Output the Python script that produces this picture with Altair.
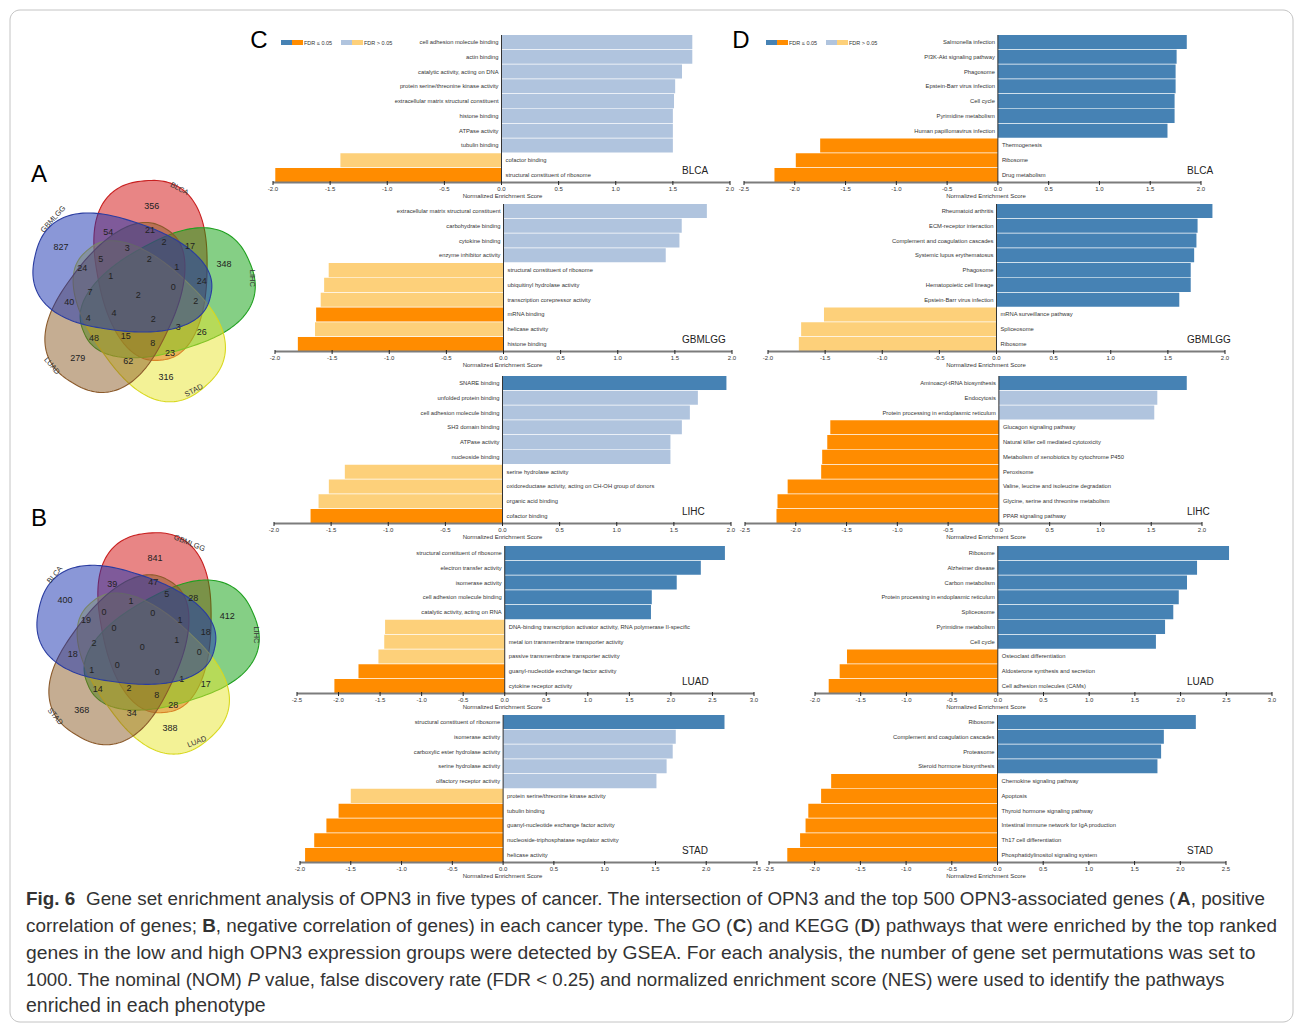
import altair as alt
import numpy as np
import pandas as pd

FONT = "Liberation Sans"

# bar colour classes: positive/negative NES, FDR <= 0.05 or not
CLS_DOMAIN = ["up_sig", "up_ns", "down_sig", "down_ns"]
CLS_RANGE = ["#4682B4", "#B0C4DE", "#FF8C00", "#FDD07A"]

# ---------------- GO enrichment (C) ----------------
go_blca_terms = ["cell adhesion molecule binding", "actin binding", "catalytic activity, acting on DNA",
                 "protein serine/threonine kinase activity", "extracellular matrix structural constituent",
                 "histone binding", "ATPase activity", "tubulin binding", "cofactor binding",
                 "structural constituent of ribosome"]
go_blca_nes = [1.67, 1.67, 1.58, 1.52, 1.51, 1.50, 1.50, 1.50, -1.41, -1.98]
go_blca_sig = [0, 0, 0, 0, 0, 0, 0, 0, 0, 1]

go_gbmlgg_terms = ["extracellular matrix structural constituent", "carbohydrate binding", "cytokine binding",
                   "enzyme inhibitor activity", "structural constituent of ribosome",
                   "ubiquitinyl hydrolase activity", "transcription corepressor activity", "mRNA binding",
                   "helicase activity", "histone binding"]
go_gbmlgg_nes = [1.78, 1.56, 1.54, 1.42, -1.53, -1.57, -1.60, -1.64, -1.65, -1.80]
go_gbmlgg_sig = [0, 0, 0, 0, 0, 0, 0, 1, 0, 1]

go_lihc_terms = ["SNARE binding", "unfolded protein binding", "cell adhesion molecule binding",
                 "SH3 domain binding", "ATPase activity", "nucleoside binding", "serine hydrolase activity",
                 "oxidoreductase activity, acting on CH-OH group of donors", "organic acid binding",
                 "cofactor binding"]
go_lihc_nes = [1.96, 1.71, 1.64, 1.57, 1.47, 1.47, -1.38, -1.52, -1.61, -1.68]
go_lihc_sig = [1, 0, 0, 0, 0, 0, 0, 0, 0, 1]

go_luad_terms = ["structural constituent of ribosome", "electron transfer activity", "isomerase activity",
                 "cell adhesion molecule binding", "catalytic activity, acting on RNA",
                 "DNA-binding transcription activator activity, RNA polymerase II-specific",
                 "metal ion transmembrane transporter activity", "passive transmembrane transporter activity",
                 "guanyl-nucleotide exchange factor activity", "cytokine receptor activity"]
go_luad_nes = [2.65, 2.36, 2.07, 1.77, 1.76, -1.44, -1.45, -1.52, -1.76, -2.05]
go_luad_sig = [1, 1, 1, 1, 1, 0, 0, 0, 1, 1]

go_stad_terms = ["structural constituent of ribosome", "isomerase activity", "carboxylic ester hydrolase activity",
                 "serine hydrolase activity", "olfactory receptor activity",
                 "protein serine/threonine kinase activity", "tubulin binding",
                 "guanyl-nucleotide exchange factor activity", "nucleoside-triphosphatase regulator activity",
                 "helicase activity"]
go_stad_nes = [2.18, 1.70, 1.67, 1.61, 1.51, -1.50, -1.62, -1.74, -1.86, -1.95]
go_stad_sig = [1, 0, 0, 0, 0, 0, 1, 1, 1, 1]

# ---------------- KEGG enrichment (D) ----------------
kegg_blca_terms = ["Salmonella infection", "PI3K-Akt signaling pathway", "Phagosome",
                   "Epstein-Barr virus infection", "Cell cycle", "Pyrimidine metabolism",
                   "Human papillomavirus infection", "Thermogenesis", "Ribosome", "Drug metabolism"]
kegg_blca_nes = [1.86, 1.76, 1.75, 1.75, 1.74, 1.74, 1.67, -1.75, -1.99, -2.20]
kegg_blca_sig = [1, 1, 1, 1, 1, 1, 1, 1, 1, 1]

kegg_gbmlgg_terms = ["Rheumatoid arthritis", "ECM-receptor interaction", "Complement and coagulation cascades",
                     "Systemic lupus erythematosus", "Phagosome", "Hematopoietic cell lineage",
                     "Epstein-Barr virus infection", "mRNA surveillance pathway", "Spliceosome", "Ribosome"]
kegg_gbmlgg_nes = [1.89, 1.76, 1.75, 1.73, 1.70, 1.70, 1.60, -1.51, -1.71, -1.73]
kegg_gbmlgg_sig = [1, 1, 1, 1, 1, 1, 1, 0, 0, 0]

kegg_lihc_terms = ["Aminoacyl-tRNA biosynthesis", "Endocytosis", "Protein processing in endoplasmic reticulum",
                   "Glucagon signaling pathway", "Natural killer cell mediated cytotoxicity",
                   "Metabolism of xenobiotics by cytochrome P450", "Peroxisome",
                   "Valine, leucine and isoleucine degradation", "Glycine, serine and threonine metabolism",
                   "PPAR signaling pathway"]
kegg_lihc_nes = [1.85, 1.56, 1.53, -1.66, -1.69, -1.74, -1.75, -2.08, -2.18, -2.19]
kegg_lihc_sig = [1, 0, 0, 1, 1, 1, 1, 1, 1, 1]

kegg_luad_terms = ["Ribosome", "Alzheimer disease", "Carbon metabolism",
                   "Protein processing in endoplasmic reticulum", "Spliceosome", "Pyrimidine metabolism",
                   "Cell cycle", "Osteoclast differentiation", "Aldosterone synthesis and secretion",
                   "Cell adhesion molecules (CAMs)"]
kegg_luad_nes = [2.53, 2.18, 2.07, 1.98, 1.92, 1.83, 1.73, -1.65, -1.73, -1.85]
kegg_luad_sig = [1, 1, 1, 1, 1, 1, 1, 1, 1, 1]

kegg_stad_terms = ["Ribosome", "Complement and coagulation cascades", "Proteasome",
                   "Steroid hormone biosynthesis", "Chemokine signaling pathway", "Apoptosis",
                   "Thyroid hormone signaling pathway", "Intestinal immune network for IgA production",
                   "Th17 cell differentiation", "Phosphatidylinositol signaling system"]
kegg_stad_nes = [2.17, 1.82, 1.79, 1.75, -1.82, -1.93, -2.07, -2.10, -2.16, -2.30]
kegg_stad_sig = [1, 1, 1, 1, 1, 1, 1, 1, 1, 1]

cancers = ["BLCA", "GBMLGG", "LIHC", "LUAD", "STAD"]
go_sets = [(go_blca_terms, go_blca_nes, go_blca_sig), (go_gbmlgg_terms, go_gbmlgg_nes, go_gbmlgg_sig),
           (go_lihc_terms, go_lihc_nes, go_lihc_sig), (go_luad_terms, go_luad_nes, go_luad_sig),
           (go_stad_terms, go_stad_nes, go_stad_sig)]
kegg_sets = [(kegg_blca_terms, kegg_blca_nes, kegg_blca_sig), (kegg_gbmlgg_terms, kegg_gbmlgg_nes, kegg_gbmlgg_sig),
             (kegg_lihc_terms, kegg_lihc_nes, kegg_lihc_sig), (kegg_luad_terms, kegg_luad_nes, kegg_luad_sig),
             (kegg_stad_terms, kegg_stad_nes, kegg_stad_sig)]

# x-axis domains of each panel
go_domains = [(-2.0, 2.0), (-2.0, 2.0), (-2.0, 2.0), (-2.5, 3.0), (-2.0, 2.5)]
kegg_domains = [(-2.5, 2.0), (-2.0, 2.0), (-2.5, 2.0), (-2.0, 3.0), (-2.5, 2.5)]

# ---------------- Venn counts ----------------
venn_a_sets = ["BLCA", "LIHC", "STAD", "LUAD", "GBMLGG"]
venn_a_counts = [356, 827, 54, 21, 17, 348, 3, 2, 5, 24, 2, 1, 1, 24, 7, 2, 0, 40, 2, 4, 4, 2, 3, 26,
                 48, 15, 8, 23, 279, 62, 316]
venn_b_sets = ["GBMLGG", "LIHC", "LUAD", "STAD", "BLCA"]
venn_b_counts = [841, 400, 39, 47, 5, 28, 412, 1, 0, 19, 0, 1, 0, 18, 2, 0, 1, 18, 0, 1, 0, 0, 1, 17,
                 14, 2, 8, 28, 368, 34, 388]

# ---------------- page layout (pixels) ----------------
W, H = 1295, 1025
PW, PH = 457, 147
row_top = [35, 204, 376, 546, 715]
go_left = [273, 275, 274, 297, 300]
kegg_left = [744, 768, 745, 815, 769]
GO_NAME_X, KEGG_NAME_X = 682, 1187
GO_TITLE_X, KEGG_TITLE_X = 502.5, 986

# region-label offsets from each diagram centre
venn_a_label_xy = [(13.4, -89), (-77.3, -47.7), (-30, -63.3), (11.7, -65), (51.7, -49), (85.7, -30.7),
                   (-11, -47.3), (25.7, -53.3), (-37.6, -35.7), (-56, -27.3), (11, -35.7), (38.4, -27.7),
                   (-27.6, -19), (63.4, -14), (-48.3, -3.3), (0, 0), (35, -7.7), (-69, 7.3), (57.4, 5.7),
                   (-50, 23.3), (-24.3, 18.3), (15, 24.3), (40, 31.7), (63.4, 36.7), (-44.3, 43.3),
                   (-12.6, 40.7), (14.4, 47.7), (31.7, 57.7), (-60.6, 63.3), (-10, 66), (27.7, 81.7)]
venn_b_label_xy = [(12.7, -89.6), (-77.3, -47.3), (-30, -63.3), (11, -65), (24.4, -53), (51, -49),
                   (85, -31.6), (-11.3, -46.6), (-38.3, -35), (-56.3, -27.3), (10.4, -34), (37.7, -27.3),
                   (-28.3, -19), (63.4, -15), (-48.3, -4), (0, 0), (34.4, -7.3), (-69.6, 6.7), (57, 5),
                   (-50.6, 22.7), (-25, 17.7), (15, 24.4), (39.4, 31.7), (63.4, 37), (-44.6, 42),
                   (-13.3, 40.4), (14.4, 47.7), (31, 57.7), (-60.6, 62.7), (-10.6, 66), (27.7, 80.4)]
venn_a_center = (138.3, 295.0)
venn_b_center = (142.3, 647.3)
# set-name label offsets and angles, in the same order as the set lists
venn_a_name_xy = [(41, -106), (113.5, -16.7), (55.7, 95.7), (-86.6, 71), (-85, -75.7)]
venn_a_name_ang = [28, 90, 332, 50, 312]
venn_b_name_xy = [(47, -104), (113.5, -12.3), (54.7, 94.7), (-87.3, 69.4), (-87.3, -72.3)]
venn_b_name_ang = [22, 90, 338, 50, 310]

SHAPE_COLORS = ["red", "green", "yellow", "brown", "blue"]
SHAPE_FILL = ["#D10B0B", "#0B9F0B", "#E7E52D", "#8B5B25", "#1530B0"]
SHAPE_STROKE = ["#C82020", "#20A020", "#D8D820", "#8B5A2B", "#2A3CA0"]
SHAPE_A, SHAPE_B, SHAPE_E, SHAPE_N = 90.0, 55.0, 0.15, 2.4
SHAPE_OFF = (11.0, -23.0)
SHAPE_SHIFT = (3.0, -1.5)
SHAPE_TILT = -5.0

ONE = pd.DataFrame({"k": [0]})


def rot(x, y, deg):
    r = np.radians(deg)
    return x * np.cos(r) - y * np.sin(r), x * np.sin(r) + y * np.cos(r)


def shape_ring(cx, cy, k):
    t = np.linspace(0, 2 * np.pi, 181)
    c, s = np.cos(t), np.sin(t)
    su = np.sign(c) * np.abs(c) ** (2 / SHAPE_N)
    sv = np.sign(s) * np.abs(s) ** (2 / SHAPE_N)
    x = SHAPE_B * su * (1 - SHAPE_E * sv)
    y = SHAPE_A * sv
    x, y = rot(x, y, SHAPE_TILT)
    x, y = x + SHAPE_OFF[0], y + SHAPE_OFF[1]
    x, y = rot(x, y, 72 * k)
    ox, oy = cx + SHAPE_SHIFT[0], cy + SHAPE_SHIFT[1]
    pts = [[round(float(ox + a), 2), round(float(oy + b), 2)] for a, b in zip(x, y)]
    pts[-1] = pts[0]
    return pts


def txt(x, y, s, size, align="left", baseline="middle", weight="normal", color="#333",
        font=FONT, style="normal"):
    return alt.Chart(pd.DataFrame({"s": [s]})).mark_text(
        align=align, baseline=baseline, fontSize=size, fontWeight=weight, fontStyle=style,
        color=color, font=font
    ).encode(x=alt.value(x), y=alt.value(y), text="s:N")


def legend_layers(x0, y0, letter, letter_x):
    layers = []
    swatches = [(x0, CLS_RANGE[0]), (x0 + 11, CLS_RANGE[2]), (x0 + 60, CLS_RANGE[1]), (x0 + 71, CLS_RANGE[3])]
    for a, c in swatches:
        layers.append(alt.Chart(ONE).mark_rect(color=c).encode(
            x=alt.value(a), x2=alt.value(a + 11), y=alt.value(y0), y2=alt.value(y0 + 5)))
    layers.append(txt(x0 + 23, y0 + 2.5, "FDR ≤ 0.05", 5.5))
    layers.append(txt(x0 + 83, y0 + 2.5, "FDR > 0.05", 5.5))
    layers.append(txt(letter_x, 48, letter, 24, align="center", baseline="alphabetic", color="#000"))
    return layers


def bar_panel(terms, nes, sig, dom, left, top, cancer, name_x, title_x):
    lo, hi = dom
    bottom = top + PH
    cls = [("up_" if v > 0 else "down_") + ("sig" if s else "ns") for v, s in zip(nes, sig)]
    df = pd.DataFrame({"term": terms, "nes": nes, "cls": cls})
    n_ticks = int(round((hi - lo) / 0.5)) + 1
    ticks = [round(lo + 0.5 * i, 1) for i in range(n_ticks)]
    tick_df = pd.DataFrame({"v": ticks, "lab": [f"{t:.1f}" for t in ticks]})
    xs = alt.Scale(domain=[lo, hi], range=[left, left + PW], nice=False, zero=False)
    y = alt.Y("term:N", sort=terms, axis=None,
              scale=alt.Scale(range=[top, bottom], paddingInner=0.05, paddingOuter=0))
    base = alt.Chart(df)
    bars = base.mark_bar().encode(
        x=alt.X("nes:Q", scale=xs, axis=None), x2=alt.datum(0), y=y,
        color=alt.Color("cls:N", scale=alt.Scale(domain=CLS_DOMAIN, range=CLS_RANGE), legend=None))
    zero = alt.Chart(ONE).mark_rule(color="#333", strokeWidth=1).encode(
        x=alt.XDatum(0, axis=None), y=alt.value(top), y2=alt.value(bottom))
    pos = base.transform_filter("datum.nes > 0").mark_text(
        align="right", baseline="middle", dx=-3, font=FONT, fontSize=5.8, color="#333"
    ).encode(x=alt.XDatum(0, axis=None), y=y, text="term:N")
    neg = base.transform_filter("datum.nes < 0").mark_text(
        align="left", baseline="middle", dx=4, font=FONT, fontSize=5.8, color="#333"
    ).encode(x=alt.XDatum(0, axis=None), y=y, text="term:N")
    # x axis: baseline, ticks, tick labels and title, all placed through the panel's x scale
    axis_line = alt.Chart(ONE).mark_rule(color="#7C7C7C", strokeWidth=2).encode(
        x=alt.XDatum(lo, axis=None), x2=alt.datum(hi), y=alt.value(bottom + 0.5))
    tick_marks = alt.Chart(tick_df).mark_rule(color="#222", strokeWidth=1).encode(
        x=alt.X("v:Q", axis=None), y=alt.value(bottom - 1), y2=alt.value(bottom + 3))
    tick_labels = alt.Chart(tick_df).mark_text(
        baseline="middle", font=FONT, fontSize=6, color="#333"
    ).encode(x=alt.X("v:Q", axis=None), y=alt.value(bottom + 6.5), text="lab:N")
    title = txt(title_x, bottom + 13.5, "Normalized Enrichment Score", 6, align="center")
    name = txt(name_x, bottom - 11, cancer, 10, color="#222")
    return alt.layer(bars, zero, pos, neg, axis_line, tick_marks, tick_labels, title, name)


# ---------------- bar panels ----------------
panels = []
for i, cancer in enumerate(cancers):
    panels.append(bar_panel(*go_sets[i], go_domains[i], go_left[i], row_top[i], cancer,
                            GO_NAME_X, GO_TITLE_X))
    panels.append(bar_panel(*kegg_sets[i], kegg_domains[i], kegg_left[i], row_top[i], cancer,
                            KEGG_NAME_X, KEGG_TITLE_X))
legends = legend_layers(281, 40, "C", 259) + legend_layers(766, 40, "D", 741)

# ---------------- Venn diagrams ----------------
features = []
label_rows = []
name_rows = []
for center, sets, counts, lxy, nxy, nang in [
        (venn_a_center, venn_a_sets, venn_a_counts, venn_a_label_xy, venn_a_name_xy, venn_a_name_ang),
        (venn_b_center, venn_b_sets, venn_b_counts, venn_b_label_xy, venn_b_name_xy, venn_b_name_ang)]:
    cx, cy = center
    for k in range(5):
        features.append({"type": "Feature", "properties": {"col": SHAPE_COLORS[k], "set": sets[k]},
                         "geometry": {"type": "Polygon", "coordinates": [shape_ring(cx, cy, k)]}})
    for n, (dx, dy) in zip(counts, lxy):
        label_rows.append({"x": cx + dx, "y": cy + dy, "n": str(n)})
    for s, (dx, dy), a in zip(sets, nxy, nang):
        name_rows.append({"x": cx + dx, "y": cy + dy, "s": s, "ang": a})

proj = dict(type="identity", scale=1, translate=[0, 0])
shapes = alt.Chart(alt.Data(values={"type": "FeatureCollection", "features": features},
                            format=alt.DataFormat(property="features"))).mark_geoshape(
    fillOpacity=0.5, strokeWidth=1.1
).encode(
    fill=alt.Fill("properties.col:N", scale=alt.Scale(domain=SHAPE_COLORS, range=SHAPE_FILL), legend=None),
    stroke=alt.Stroke("properties.col:N", scale=alt.Scale(domain=SHAPE_COLORS, range=SHAPE_STROKE), legend=None),
).project(**proj)
counts_layer = alt.Chart(pd.DataFrame(label_rows)).mark_text(
    font=FONT, fontSize=9, color="#222", baseline="middle"
).encode(longitude="x:Q", latitude="y:Q", text="n:N").project(**proj)
names_layer = alt.Chart(pd.DataFrame(name_rows)).mark_text(
    font=FONT, fontSize=7.5, color="#333", baseline="middle"
).encode(longitude="x:Q", latitude="y:Q", text="s:N", angle=alt.Angle("ang:Q", scale=None)).project(**proj)
frame = alt.Chart(ONE).mark_rect(fillOpacity=0, stroke="#C4C4C4", strokeWidth=1, cornerRadius=10).encode(
    x=alt.value(10), x2=alt.value(1293), y=alt.value(10), y2=alt.value(1022))
letters = [txt(31, 182, "A", 24, baseline="alphabetic", color="#000"),
           txt(31, 526, "B", 24, baseline="alphabetic", color="#000")]

# ---------------- caption ----------------
caption_parts = [
    [("bold", "Fig. 6"),
     ("normal", "Gene set enrichment analysis of OPN3 in five types of cancer. The intersection of OPN3 and the top 500 OPN3-associated genes ("),
     ("bold", "A"), ("normal", ", positive")],
    [("normal", "correlation of genes; "), ("bold", "B"),
     ("normal", ", negative correlation of genes) in each cancer type. The GO ("), ("bold", "C"),
     ("normal", ") and KEGG ("), ("bold", "D"),
     ("normal", ") pathways that were enriched by the top ranked")],
    [("normal", "genes in the low and high OPN3 expression groups were detected by GSEA. For each analysis, the number of gene set permutations was set to")],
    [("normal", "1000. The nominal (NOM) "), ("italic", "P"),
     ("normal", " value, false discovery rate (FDR < 0.25) and normalized enrichment score (NES) were used to identify the pathways")],
    [("normal", "enriched in each phenotype")],
]
caption_y = [899, 926, 953, 980, 1006]
caption_start = [86, 26, 26, 26, 26]        # where the running text of each line begins
caption_end = [1265, 1277, 1256, 1225, 267]  # where each line ends
CAP_X0 = 26

# Arial / Liberation Sans advance widths (per 1000 em), used to butt caption segments together
_REG = dict(zip(" !\"#$%&'()*+,-./0123456789:;<=>?",
                [278, 278, 355, 556, 556, 889, 667, 191, 333, 333, 389, 584, 278, 333, 278, 278] + [556] * 10 +
                [278, 278, 584, 584, 584, 556]))
_REG.update(dict(zip("ABCDEFGHIJKLMNOPQRSTUVWXYZ",
                     [667, 667, 722, 722, 667, 611, 778, 722, 278, 500, 667, 556, 833, 722, 778, 667, 778,
                      722, 667, 611, 722, 667, 944, 667, 667, 611])))
_REG.update(dict(zip("abcdefghijklmnopqrstuvwxyz",
                     [556, 556, 500, 556, 556, 278, 556, 556, 222, 222, 500, 222, 833, 556, 556, 556, 556,
                      333, 500, 278, 556, 500, 722, 500, 500, 500])))
_BOLD = dict(_REG)
_BOLD.update({"A": 722, "B": 722, "C": 722, "D": 722, "F": 611, "i": 278, "g": 611, "6": 556, ".": 278})


def em_width(s, style):
    tbl = _BOLD if style == "bold" else _REG
    return sum(tbl.get(ch, 556) for ch in s) / 1000.0


cap_rows = []
for li, parts in enumerate(caption_parts):
    body = parts[1:] if li == 0 else parts
    size = (caption_end[li] - caption_start[li]) / sum(em_width(t, st) for st, t in body)
    size = min(size, 19.5)
    xv = CAP_X0
    for pi, (style, t) in enumerate(parts):
        if li == 0 and pi == 1:
            xv = caption_start[0]
        lead = len(t) - len(t.lstrip(" "))
        cap_rows.append({"x": round(xv + lead * 0.278 * size, 1), "y": caption_y[li],
                         "t": t.strip(" "), "style": style, "fs": round(size, 2)})
        xv += em_width(t, style) * size
cap_df = pd.DataFrame(cap_rows)
cap_layers = []
for style, weight, fstyle in [("normal", "normal", "normal"), ("bold", "bold", "normal"),
                              ("italic", "normal", "italic")]:
    cap_layers.append(alt.Chart(cap_df).transform_filter(f"datum.style == '{style}'").mark_text(
        align="left", baseline="middle", font=FONT, fontWeight=weight, fontStyle=fstyle, color="#333"
    ).encode(x=alt.X("x:Q", scale=None, axis=None), y=alt.Y("y:Q", scale=None, axis=None),
             size=alt.Size("fs:Q", scale=None, legend=None), text="t:N"))

chart = alt.layer(
    frame, shapes, counts_layer, names_layer, *letters, *cap_layers, *panels, *legends
).resolve_scale(x="independent", y="independent").properties(
    width=W, height=H, padding=0, background="white",
    autosize=alt.AutoSizeParams(type="none"),
).configure_view(stroke="transparent")

chart.save("out.html", embed_options={"renderer": "svg", "actions": False})
